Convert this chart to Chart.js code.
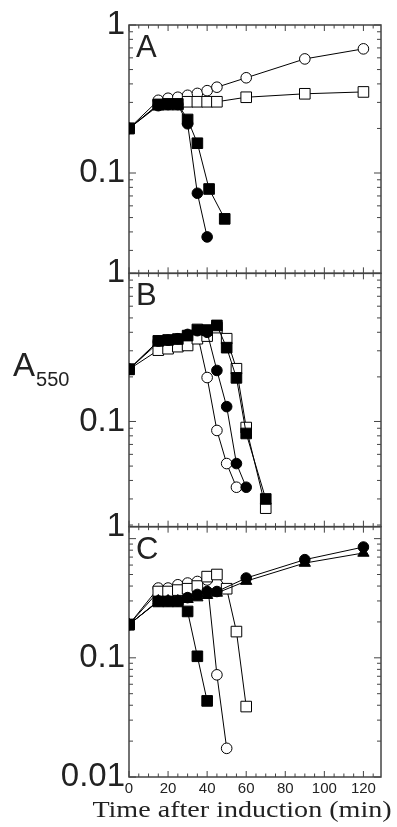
<!DOCTYPE html>
<html>
<head>
<meta charset="utf-8">
<script src="https://cdn.jsdelivr.net/npm/chart.js@4.4.1/dist/chart.umd.min.js"></script>
<style>
html, body { margin: 0; padding: 0; background: #fff; }
#wrap { width: 397px; height: 827px; }
</style>
</head>
<body>
<div id="wrap"><canvas id="myChart" width="397" height="827"></canvas></div>
<script>
// ----------------------- DADOS -----------------------
const xTicks = [0, 20, 40, 60, 80, 100, 120];
const xTitle = 'Time after induction (min)';

// painel A
const tA_openCircle = [0, 15, 20, 25, 30, 35, 40, 45, 60, 90, 120];
const A_openCircle = [0.20, 0.31, 0.32, 0.325, 0.335, 0.345, 0.36, 0.38, 0.44, 0.59, 0.69];
const tA_openSquare = [0, 15, 20, 25, 30, 35, 40, 45, 60, 90, 120];
const A_openSquare = [0.20, 0.29, 0.29, 0.29, 0.303, 0.303, 0.303, 0.303, 0.325, 0.343, 0.353];
const tA_filledCircle = [0, 15, 20, 25, 30, 35, 40];
const A_filledCircle = [0.20, 0.285, 0.29, 0.29, 0.215, 0.073, 0.037];
const tA_filledSquare = [0, 15, 20, 25, 30, 35, 41, 49];
const A_filledSquare = [0.20, 0.29, 0.293, 0.293, 0.23, 0.159, 0.078, 0.049];

// painel B
const tB_squares = [0, 15, 20, 25, 30, 35, 40, 45, 50, 55, 60, 70];
const B_filledSquare = [0.225, 0.35, 0.355, 0.36, 0.38, 0.418, 0.414, 0.445, 0.315, 0.197, 0.083, 0.030];
const B_openSquare = [0.225, 0.303, 0.31, 0.32, 0.326, 0.362, 0.377, 0.43, 0.362, 0.227, 0.091, 0.026];
const tB_filledCircle = [0, 15, 20, 25, 30, 35, 40, 45, 50, 55, 60];
const B_filledCircle = [0.225, 0.349, 0.354, 0.362, 0.387, 0.41, 0.40, 0.221, 0.126, 0.052, 0.036];
const tB_openCircle = [0, 15, 20, 25, 30, 35, 40, 45, 50, 55];
const B_openCircle = [0.225, 0.34, 0.35, 0.36, 0.38, 0.39, 0.198, 0.087, 0.052, 0.036];

// painel C
const tC_filledSquare = [0, 15, 20, 25, 30, 35, 40];
const C_filledSquare = [0.19, 0.297, 0.297, 0.297, 0.245, 0.103, 0.0435];
const tC_openCircle = [0, 15, 20, 25, 30, 35, 40, 45, 50];
const C_openCircle = [0.19, 0.385, 0.385, 0.41, 0.424, 0.437, 0.45, 0.072, 0.0174];
const tC_openSquare = [0, 15, 20, 25, 30, 35, 40, 45, 50, 55, 60];
const C_openSquare = [0.19, 0.36, 0.36, 0.37, 0.38, 0.40, 0.48, 0.50, 0.38, 0.166, 0.039];
const tC_late = [0, 15, 20, 25, 30, 35, 40, 45, 60, 90, 120];
const C_filledCircle = [0.19, 0.30, 0.30, 0.30, 0.32, 0.34, 0.36, 0.36, 0.467, 0.666, 0.85];
const C_filledTriangle = [0.19, 0.30, 0.30, 0.30, 0.31, 0.32, 0.335, 0.35, 0.44, 0.624, 0.758];

// ticks do eixo y (o "1" do painel C fica no topo do painel, como no original)
const yTicksA = [0.1, 1];
const yLabelsA = ['0.1', '1'];
const yTicksB = [0.1, 1];
const yLabelsB = ['0.1', '1'];
const yTicksC = [0.01, 0.1, 1.26];
const yLabelsC = ['0.01', '0.1', '1'];
const panelLetters = ['A', 'B', 'C'];
// -----------------------------------------------------

function serie(label, axis, xs, ys, style, filled) {
    return {
        label: label,
        yAxisID: axis,
        data: xs.map((x, i) => ({ x: x, y: ys[i] })),
        borderColor: '#000',
        borderWidth: 1,
        pointStyle: style,
        pointRadius: style === 'rect' ? 7.5 : (style === 'triangle' ? 6.5 : 5.3),
        pointBackgroundColor: filled ? '#000' : '#fff',
        pointBorderColor: '#000',
        pointBorderWidth: 1,
        fill: false,
        tension: 0
    };
}

function eixoLog(min, max, weight, ticks, labels) {
    return {
        type: 'logarithmic',
        position: 'left',
        stack: 'paineis',
        stackWeight: weight,
        min: min,
        max: max,
        afterBuildTicks: s => { s.ticks = ticks.map(v => ({ value: v })) },
        afterFit: s => { s.width = 129 },
        ticks: {
            autoSkip: false,
            padding: 4,
            color: '#222',
            font: { family: 'Liberation Sans', size: 33 },
            callback: (v, i) => labels[i]
        },
        grid: { display: false, drawTicks: false },
        border: { display: false }
    };
}

const moldura = {
    id: 'moldura',
    beforeDatasetsDraw(chart) {
        const ctx = chart.ctx;
        const ca = chart.chartArea;
        const xs = chart.scales.x;
        const risco = (x1, y1, x2, y2) => { ctx.beginPath(); ctx.moveTo(x1, y1); ctx.lineTo(x2, y2); ctx.stroke(); };
        ctx.save();
        ctx.strokeStyle = '#444';
        ['yA', 'yB', 'yC'].forEach((id, k) => {
            const ys = chart.scales[id];
            ctx.lineWidth = 1;
            for (let t = 0; t <= xs.max; t += 5) {
                const px = xs.getPixelForValue(t);
                const len = t % 20 === 0 ? 6 : 3.5;
                risco(px, ys.top, px, ys.top + len);
                risco(px, ys.bottom, px, ys.bottom - len);
            }
            const lo = Math.floor(Math.log10(ys.min));
            const hi = Math.ceil(Math.log10(ys.max));
            for (let e = lo; e <= hi; e++) {
                for (let m = 1; m <= 9; m++) {
                    const v = m * Math.pow(10, e);
                    if (v < ys.min * 0.999 || v > ys.max) continue;
                    const py = ys.getPixelForValue(v);
                    const len = m === 1 ? 7 : 4;
                    risco(ca.left, py, ca.left + len, py);
                    risco(ca.right, py, ca.right - len, py);
                }
            }
            ctx.lineWidth = 1.5;
            ctx.strokeRect(ca.left, ys.top, ca.right - ca.left, ys.bottom - ys.top);

            ctx.fillStyle = '#222';
            ctx.font = '31px "Liberation Sans"';
            ctx.textBaseline = 'top';
            ctx.textAlign = 'left';
            ctx.fillText(panelLetters[k], ca.left + 7, ys.top + 8);
        });
        ctx.restore();
    },
    afterDraw(chart) {
        const ctx = chart.ctx;
        const ca = chart.chartArea;
        const yB = chart.scales.yB;
        ctx.save();
        ctx.fillStyle = '#222';
        ctx.textBaseline = 'alphabetic';
        // titulo do eixo y: A com subscrito 550
        const yBase = yB.getPixelForValue(0.1) - 45;
        ctx.font = '33px "Liberation Sans"';
        ctx.textAlign = 'left';
        const xA = ca.left - 116;
        ctx.fillText('A', xA, yBase);
        const wA = ctx.measureText('A').width;
        ctx.font = '20px "Liberation Sans"';
        ctx.fillText('550', xA + wA + 1, yBase + 10);
        // titulo do eixo x
        ctx.font = '24px "Liberation Serif"';
        ctx.textAlign = 'center';
        ctx.translate(242, ca.bottom + 40);
        ctx.scale(1.17, 1);
        ctx.fillText(xTitle, 0, 0);
        ctx.restore();
    }
};

new Chart(document.getElementById('myChart'), {
    type: 'line',
    data: {
        datasets: [
            serie('A filled square', 'yA', tA_filledSquare, A_filledSquare, 'rect', true),
            serie('A filled circle', 'yA', tA_filledCircle, A_filledCircle, 'circle', true),
            serie('A open square', 'yA', tA_openSquare, A_openSquare, 'rect', false),
            serie('A open circle', 'yA', tA_openCircle, A_openCircle, 'circle', false),

            serie('B filled square', 'yB', tB_squares, B_filledSquare, 'rect', true),
            serie('B filled circle', 'yB', tB_filledCircle, B_filledCircle, 'circle', true),
            serie('B open square', 'yB', tB_squares, B_openSquare, 'rect', false),
            serie('B open circle', 'yB', tB_openCircle, B_openCircle, 'circle', false),

            serie('C filled square', 'yC', tC_filledSquare, C_filledSquare, 'rect', true),
            serie('C filled circle', 'yC', tC_late, C_filledCircle, 'circle', true),
            serie('C filled triangle', 'yC', tC_late, C_filledTriangle, 'triangle', true),
            serie('C open square', 'yC', tC_openSquare, C_openSquare, 'rect', false),
            serie('C open circle', 'yC', tC_openCircle, C_openCircle, 'circle', false)
        ]
    },
    options: {
        responsive: false,
        animation: false,
        devicePixelRatio: 1,
        layout: { padding: { left: 0, right: 16, top: 25, bottom: 0 } },
        plugins: { legend: { display: false }, tooltip: { enabled: false } },
        scales: {
            x: {
                type: 'linear',
                position: 'bottom',
                min: 0,
                max: 129,
                afterBuildTicks: s => { s.ticks = xTicks.map(v => ({ value: v })) },
                afterFit: s => { s.height = 50 },
                ticks: {
                    autoSkip: false,
                    maxRotation: 0,
                    padding: 3,
                    color: '#222',
                    font: { family: 'Liberation Sans', size: 15 }
                },
                grid: { display: false, drawTicks: false },
                border: { display: false }
            },
            yC: eixoLog(0.01, 1.26, 250, yTicksC, yLabelsC),
            yB: eixoLog(0.0195, 1, 253, yTicksB, yLabelsB),
            yA: eixoLog(0.021, 1, 248, yTicksA, yLabelsA)
        }
    },
    plugins: [moldura]
});
</script>
</body>
</html>
